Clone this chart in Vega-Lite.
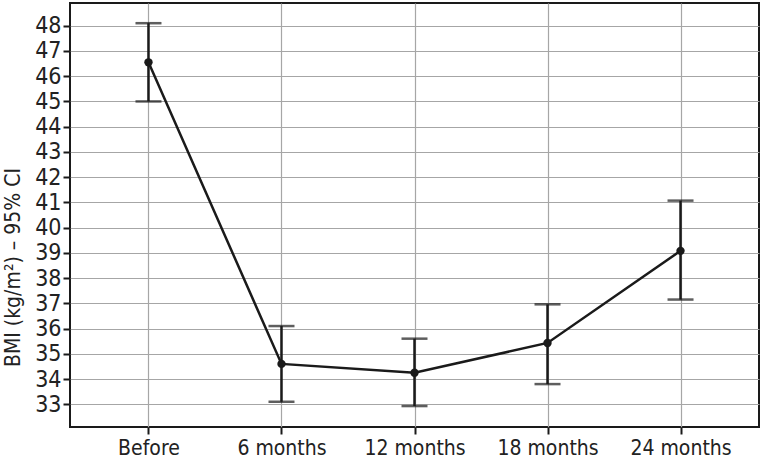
{
  "$schema": "https://vega.github.io/schema/vega-lite/v6.json",
  "width": 689,
  "height": 424,
  "autosize": {"type": "none"},
  "padding": {"left": 70, "top": 3, "right": 4, "bottom": 33},
  "background": "white",
  "config": {
    "font": "DejaVu Sans Condensed, Liberation Sans, sans-serif",
    "view": {"stroke": "#1a1a1a", "strokeWidth": 2},
    "axis": {
      "gridColor": "#a6a6a6",
      "gridWidth": 1.2,
      "gridOpacity": 1,
      "domain": false,
      "tickColor": "#1a1a1a",
      "tickWidth": 2,
      "tickSize": 7,
      "labelColor": "#222",
      "titleColor": "#222",
      "labelOverlap": false,
      "labelFont": "DejaVu Sans Condensed, Liberation Sans, sans-serif",
      "titleFont": "DejaVu Sans Condensed, Liberation Sans, sans-serif"
    },
    "axisY": {
      "values": [33, 34, 35, 36, 37, 38, 39, 40, 41, 42, 43, 44, 45, 46, 47, 48],
      "tickCount": 16,
      "labelOverlap": false,
      "labelFontSize": 23,
      "labelPadding": 2,
      "titleFontSize": 21,
      "titleFontWeight": "normal",
      "titleAngle": -90,
      "titleAlign": "center",
      "titleBaseline": "bottom",
      "titleX": -47,
      "titleY": 264,
      "grid": true
    }
  },
  "data": {
    "values": [
      {"time": "Before", "mean": 46.55, "lower": 45.0, "upper": 48.1},
      {"time": "6 months", "mean": 34.6, "lower": 33.1, "upper": 36.1},
      {"time": "12 months", "mean": 34.25, "lower": 32.93, "upper": 35.6},
      {"time": "18 months", "mean": 35.43, "lower": 33.8, "upper": 36.96},
      {"time": "24 months", "mean": 39.08, "lower": 37.15, "upper": 41.07}
    ]
  },
  "encoding": {
    "x": {
      "field": "time",
      "type": "nominal",
      "sort": ["Before", "6 months", "12 months", "18 months", "24 months"],
      "scale": {"type": "point", "padding": 0.59},
      "axis": {"title": null, "labelAngle": 0, "labelFontSize": 21, "labelPadding": 3, "grid": true}
    }
  },
  "layer": [
    {
      "mark": {"type": "rule", "color": "#1a1a1a", "strokeWidth": 2.5},
      "encoding": {
        "y": {
          "field": "lower",
          "type": "quantitative",
          "scale": {"domain": [32.1, 48.9], "nice": false, "zero": false},
          "axis": {"title": "BMI (kg/m²) – 95% CI"}
        },
        "y2": {"field": "upper"}
      }
    },
    {
      "mark": {"type": "tick", "color": "#1a1a1a", "thickness": 2.5, "size": 26, "orient": "horizontal"},
      "encoding": {"y": {"field": "lower", "type": "quantitative", "axis": {"title": "BMI (kg/m²) – 95% CI"}}}
    },
    {
      "mark": {"type": "tick", "color": "#1a1a1a", "thickness": 2.5, "size": 26, "orient": "horizontal"},
      "encoding": {"y": {"field": "upper", "type": "quantitative", "axis": {"title": "BMI (kg/m²) – 95% CI"}}}
    },
    {
      "mark": {"type": "line", "color": "#1a1a1a", "strokeWidth": 2.5},
      "encoding": {"y": {"field": "mean", "type": "quantitative", "axis": {"title": "BMI (kg/m²) – 95% CI"}}}
    },
    {
      "mark": {"type": "point", "filled": true, "color": "#1a1a1a", "size": 70, "opacity": 1},
      "encoding": {"y": {"field": "mean", "type": "quantitative", "axis": {"title": "BMI (kg/m²) – 95% CI"}}}
    }
  ]
}
